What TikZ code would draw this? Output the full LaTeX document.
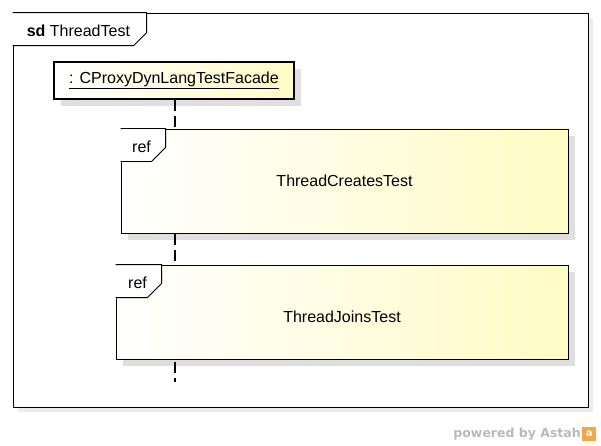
\documentclass[tikz,border=0pt]{standalone}
\usepackage{fontspec}
\setmainfont{Liberation Sans}
\newfontfamily\logofont{DejaVu Sans}
\usetikzlibrary{positioning, shadows, calc}

\definecolor{refyellow}{RGB}{255,251,196}
\definecolor{astahorange}{RGB}{240,168,72}

\begin{document}
\begin{tikzpicture}[
  x=1pt, y=-1pt,
  every node/.style={font=\fontsize{16}{19}\selectfont, inner sep=0pt},
  diagframe/.style={rectangle, draw, line width=0.8pt, fill=white, minimum width=575pt, minimum height=394pt,
    drop shadow={shadow xshift=5pt, shadow yshift=-5pt, fill=gray!15, opacity=1}},
  lifehead/.style={rectangle, draw, line width=2.6pt, left color=white, right color=refyellow,
    minimum width=240pt, minimum height=37pt,
    drop shadow={shadow xshift=7pt, shadow yshift=-7pt, fill=gray!25, opacity=1}},
  refbox/.style={rectangle, draw, line width=0.9pt, left color=white, right color=refyellow,
    drop shadow={shadow xshift=7pt, shadow yshift=-7pt, fill=gray!25, opacity=1}},
  tab/.style={draw, line width=0.9pt, fill=white},
  tabshade/.style={draw=gray!18, line width=1.5pt},
  lifeline/.style={line width=1.1pt, dash pattern=on 11pt off 5pt},
]
\useasboundingbox (0,0) rectangle (601,446);

% Frame with its sd tab
\node[diagframe] (frame) at (300.5,210) {};
\draw[tab] (frame.north west) -- ++(134,0) -- ++(0,20) -- ++(-13,13) -- ++(-121,0);
\node[anchor=west] (sdlabel) at ($(frame.north west)+(14,18)$) {\textbf{sd} ThreadTest};

% Lifeline head
\node[lifehead] (head) at (174,80.5) {\underline{: CProxyDynLangTestFacade}};

% Interaction uses
\node[refbox, minimum width=447pt, minimum height=104pt] (create) at (344.5,181) {ThreadCreatesTest};
\node[refbox, minimum width=452pt, minimum height=94pt,
  label={[yshift=-5pt]center:ThreadJoinsTest}] (join) at (342,312) {};

% ref tabs
\draw[tabshade, shift={(5,5)}] ($(create.north west)+(45,2)$) -- ++(0,17) -- ++(-14,14) -- ++(-31,0);
\draw[tab] (create.north west) -- ++(45,0) -- ++(0,19) -- ++(-14,14) -- ++(-31,0);
\node (createref) at ($(create.north west)+(21,18)$) {ref};

\draw[tabshade, shift={(5,5)}] ($(join.north west)+(46,2)$) -- ++(0,17) -- ++(-14,14) -- ++(-32,0);
\draw[tab] (join.north west) -- ++(46,0) -- ++(0,19) -- ++(-14,14) -- ++(-32,0);
\node (joinref) at ($(join.north west)+(22,18)$) {ref};

% Lifeline pieces
\coordinate (lifeend) at (175,382);
\draw[lifeline] (head.south -| lifeend) -- (create.north -| lifeend);
\draw[lifeline] ($(create.south -| lifeend)+(0,1)$) -- (join.north -| lifeend);
\draw[lifeline] ($(join.south -| lifeend)+(0,3)$) -- (lifeend);

% Watermark
\node[anchor=east, font=\logofont\bfseries\fontsize{12.5}{14}\selectfont, text=gray!55] (powered) at (581,434) {powered by Astah};
\node[fill=astahorange, minimum size=14pt, right=1pt of powered, font=\logofont\bfseries\fontsize{10}{10}\selectfont, text=white] (logo) {a};

\end{tikzpicture}
\end{document}
